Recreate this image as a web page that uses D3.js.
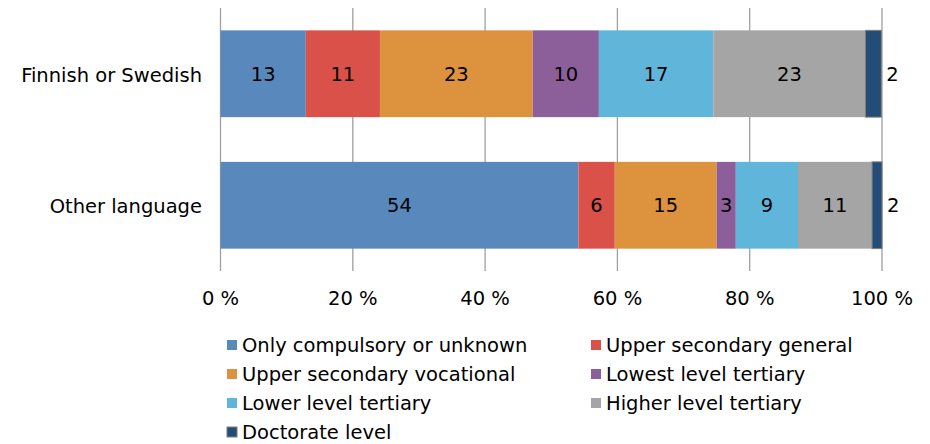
<!DOCTYPE html>
<html>
<head>
<meta charset="utf-8">
<script src="https://d3js.org/d3.v7.min.js"></script>
<style>
  body { margin: 0; background: #fff; }
  text { font-family: "DejaVu Sans", Verdana, sans-serif; fill: #000; }
</style>
</head>
<body>
<script>
// data
var groups = ["Finnish or Swedish", "Other language"];
var levels = ["Only compulsory or unknown", "Upper secondary general",
  "Upper secondary vocational", "Lowest level tertiary",
  "Lower level tertiary", "Higher level tertiary", "Doctorate level"];
var finnishSwedish = [12.9, 11.2, 23.1, 10.0, 17.3, 23.0, 2.4];
var otherLanguage = [54.1, 5.5, 15.4, 2.9, 9.4, 11.2, 1.5];
var xTicks = [0, 20, 40, 60, 80, 100];
var colors = ["#5989bc", "#d95148", "#dd923e", "#8c5f9a", "#60b6da", "#a5a5a5", "#234c76"];

var width = 930, height = 444;
var fs = 19.5;

var svg = d3.select("body").append("svg")
  .attr("width", width).attr("height", height);

var x = d3.scaleLinear().domain([0, 100]).range([220.5, 882]);
var y = d3.scaleBand().domain(groups).range([8, 271])
  .paddingInner(0.34).paddingOuter(0.17);

// gridlines
svg.append("g").selectAll("line").data(xTicks).enter().append("line")
  .attr("x1", d => x(d)).attr("x2", d => x(d))
  .attr("y1", 8).attr("y2", 271)
  .attr("stroke", "#a0a0a0").attr("stroke-width", 1.3);

// stacked segments
var rows = [finnishSwedish, otherLanguage];
rows.forEach(function(vals, gi) {
  var acc = 0;
  var segs = vals.map(function(v, i) {
    var s = {start: acc, end: acc + v, value: v, i: i};
    acc += v;
    return s;
  });
  var g = svg.append("g");
  g.selectAll("rect").data(segs).enter().append("rect")
    .attr("x", d => x(d.start))
    .attr("y", y(groups[gi]))
    .attr("width", d => x(d.end) - x(d.start))
    .attr("height", y.bandwidth())
    .attr("fill", d => colors[d.i])
    .attr("stroke", d => d.i === 6 ? "#7f7f7f" : "none")
    .attr("stroke-width", 1);
  g.selectAll("text").data(segs).enter().append("text")
    .attr("x", d => d.i === 6 ? x(d.end) + 5 : (x(d.start) + x(d.end)) / 2)
    .attr("y", y(groups[gi]) + y.bandwidth() / 2)
    .attr("dy", "0.36em")
    .attr("text-anchor", d => d.i === 6 ? "start" : "middle")
    .style("font-size", fs + "px")
    .text(d => Math.round(d.value));
});

// category labels
svg.append("g").selectAll("text").data(groups).enter().append("text")
  .attr("x", 202)
  .attr("y", d => y(d) + y.bandwidth() / 2 + 1)
  .attr("dy", "0.36em")
  .attr("text-anchor", "end")
  .style("font-size", fs + "px")
  .text(d => d);

// x tick labels
svg.append("g").selectAll("text").data(xTicks).enter().append("text")
  .attr("x", d => x(d))
  .attr("y", 298)
  .attr("dy", "0.36em")
  .attr("text-anchor", "middle")
  .style("font-size", fs + "px")
  .text(d => d + " %");

// legend
var legend = svg.append("g").selectAll("g").data(levels).enter().append("g")
  .attr("transform", function(d, i) {
    var col = i % 2, row = Math.floor(i / 2);
    return "translate(" + (col === 0 ? 227 : 591) + "," + (345 + row * 29) + ")";
  });
legend.append("rect")
  .attr("x", 0).attr("y", -5).attr("width", 10).attr("height", 10)
  .attr("fill", (d, i) => colors[i])
  .attr("stroke", (d, i) => i === 6 ? "#7f7f7f" : "none");
legend.append("text")
  .attr("x", 15).attr("y", 0).attr("dy", "0.36em")
  .style("font-size", fs + "px")
  .text(d => d);
</script>
</body>
</html>
